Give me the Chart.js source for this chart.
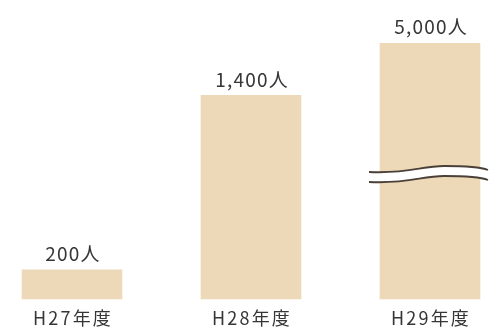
<!DOCTYPE html>
<html lang="ja">
<head>
    <meta charset="UTF-8">
    <title>年度別人数</title>
    <script src="https://cdn.jsdelivr.net/npm/chart.js"></script>
    <style>
        body { margin: 0; background: #fff; }
    </style>
</head>
<body>
    <canvas id="chart" width="491" height="332"></canvas>

    <script>
        // data
        const categories = ['H27年度', 'H28年度', 'H29年度'];
        const counts = [200, 1400, 5000];
        const valueLabels = ['200人', '1,400人', '5,000人'];
        // axis cap: the last bar is cut (broken axis)
        const Y_MAX = 1760;
        const BROKEN_INDEX = 2;

        const BAR_COLOR = '#edd9b8';
        const TEXT_COLOR = '#363636';
        const FONT = '"Noto Sans CJK JP", "Noto Sans", sans-serif';

        // value labels, category labels and the wavy break mark
        const overlayPlugin = {
            id: 'overlay',
            afterDatasetsDraw(chart) {
                const ctx = chart.ctx;
                const area = chart.chartArea;
                const meta = chart.getDatasetMeta(0);
                ctx.save();
                ctx.fillStyle = TEXT_COLOR;
                ctx.textAlign = 'center';
                ctx.textBaseline = 'middle';
                meta.data.forEach((bar, i) => {
                    const top = Math.max(bar.y, area.top);
                    ctx.font = '19px ' + FONT;
                    ctx.letterSpacing = '1.2px';
                    ctx.fillText(valueLabels[i], bar.x + 1, top - 16);
                    ctx.font = '18px ' + FONT;
                    ctx.letterSpacing = '2.2px';
                    ctx.fillText(categories[i], bar.x + 1, area.bottom + 19);
                });
                ctx.letterSpacing = '0px';

                // break mark on the cut bar
                const b = meta.data[BROKEN_INDEX];
                const x0 = b.x - 61, x1 = b.x + 58;
                const yMid = (area.top + area.bottom) / 2 + 5;
                const wave = (dy) => {
                    ctx.moveTo(x0, yMid + dy + 1);
                    ctx.bezierCurveTo(x0 + 40, yMid + dy + 3, x0 + 52, yMid + dy - 5, x0 + 75, yMid + dy - 5);
                    ctx.quadraticCurveTo(x1 - 10, yMid + dy - 5, x1, yMid + dy - 1);
                };
                // white gap
                ctx.beginPath();
                ctx.moveTo(x0, yMid - 4);
                ctx.bezierCurveTo(x0 + 40, yMid - 2, x0 + 52, yMid - 10, x0 + 75, yMid - 10);
                ctx.quadraticCurveTo(x1 - 10, yMid - 10, x1, yMid - 6);
                ctx.lineTo(x1, yMid + 4);
                ctx.quadraticCurveTo(x1 - 10, yMid, x0 + 75, yMid);
                ctx.bezierCurveTo(x0 + 52, yMid, x0 + 40, yMid + 8, x0, yMid + 6);
                ctx.closePath();
                ctx.fillStyle = '#ffffff';
                ctx.fill();
                ctx.beginPath();
                wave(-5);
                wave(5);
                ctx.strokeStyle = '#4a4038';
                ctx.lineWidth = 1.8;
                ctx.stroke();
                ctx.restore();
            }
        };

        new Chart(document.getElementById('chart').getContext('2d'), {
            type: 'bar',
            data: {
                labels: categories,
                datasets: [{
                    data: counts,
                    backgroundColor: BAR_COLOR,
                    borderWidth: 0,
                    barThickness: 100,
                    clip: { left: false, right: false, top: 0, bottom: false }
                }]
            },
            options: {
                responsive: false,
                animation: false,
                layout: { padding: { left: 72, right: 61, top: 43, bottom: 33 } },
                plugins: {
                    legend: { display: false },
                    tooltip: { enabled: false }
                },
                scales: {
                    x: {
                        display: false,
                        offset: false
                    },
                    y: {
                        display: false,
                        min: 0,
                        max: Y_MAX
                    }
                }
            },
            plugins: [overlayPlugin]
        });
    </script>
</body>
</html>
